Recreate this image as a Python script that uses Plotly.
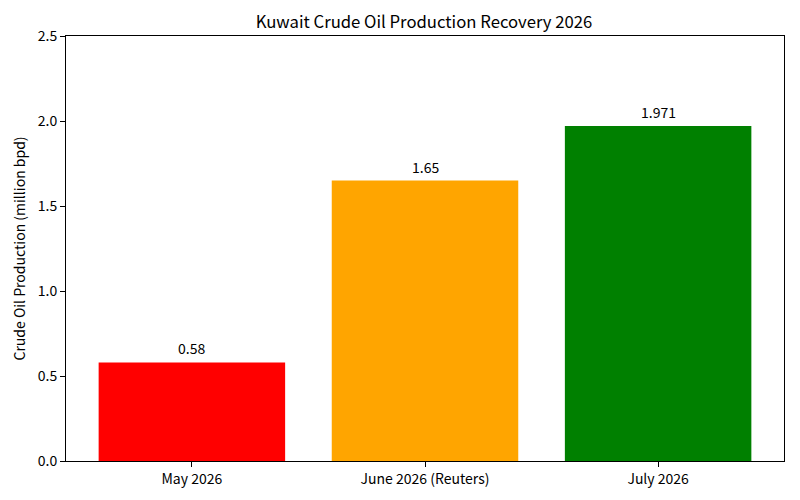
import plotly.graph_objects as go

months = ['May 2026', 'June 2026 (Reuters)', 'July 2026']
production = [0.58, 1.65, 1.971]
labels = ['0.58', '1.65', '1.971']
colors = ['red', 'orange', 'green']

font = 'Noto Sans CJK JP'

# the page body has an 8px margin, so the figure is made 8px smaller
W, H = 792, 492

fig = go.Figure()
fig.add_trace(go.Bar(
    x=list(range(len(months))),
    y=production,
    width=0.8,
    marker=dict(color=colors, line=dict(width=0)),
    showlegend=False,
))

# value labels above bars
for i, (v, t) in enumerate(zip(production, labels)):
    fig.add_annotation(x=i, y=v, text=t, showarrow=False,
                       yanchor='bottom', yshift=2,
                       font=dict(family=font, size=14, color='black'))

fig.update_layout(
    width=W, height=H,
    margin=dict(l=56, r=16, t=28, b=39, pad=0),
    plot_bgcolor='white', paper_bgcolor='white',
    font=dict(family=font, size=14, color='black'),
    title=dict(text='Kuwait Crude Oil Production Recovery 2026',
               x=(424 - 8) / W, xanchor='center', y=1 - 14 / H, yanchor='middle',
               font=dict(size=16.7)),
)
fig.update_xaxes(
    range=[-0.54, 2.54], tickvals=list(range(len(months))), ticktext=months,
    showline=True, linecolor='black', linewidth=1, mirror=True,
    ticks='outside', ticklen=5, tickcolor='black', showgrid=False,
    zeroline=False, tickfont=dict(size=14, color='black'),
)
fig.update_yaxes(
    range=[0, 2.5], dtick=0.5, tickformat='.1f',
    title=dict(text='Crude Oil Production (million bpd)', standoff=8,
               font=dict(size=14)),
    showline=True, linecolor='black', linewidth=1, mirror=True,
    ticks='outside', ticklen=5, tickcolor='black', showgrid=False,
    zeroline=False, tickfont=dict(size=14, color='black'),
)

fig.write_html('out.html')
